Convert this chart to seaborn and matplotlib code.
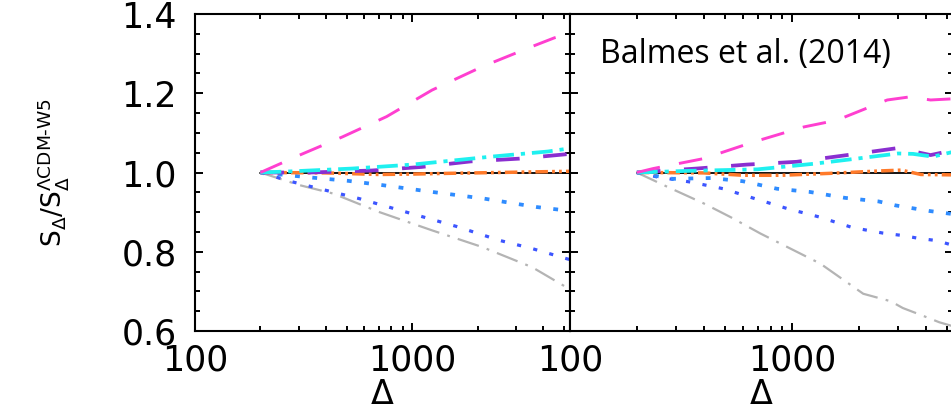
import matplotlib
matplotlib.use("Agg")
import matplotlib.pyplot as plt
import seaborn as sns
from matplotlib.ticker import FixedLocator, FixedFormatter, LogLocator, NullFormatter, MultipleLocator

# ---------------- data ----------------
ref_x = [200, 5300]
ref_y = [1.0, 1.0]

# left panel
magL_x = [200, 303, 477, 760, 1230, 2090, 3550, 4500, 5300]
magL_y = [1.0, 1.044, 1.090, 1.141, 1.208, 1.267, 1.318, 1.340, 1.350]
cyaL_x = [200, 280, 530, 1000, 2300, 4200, 5300]
cyaL_y = [1.0, 1.003, 1.010, 1.020, 1.040, 1.053, 1.061]
purL_x = [200, 340, 650, 1100, 1850, 3100, 5300]
purL_y = [1.0, 1.0, 1.005, 1.014, 1.028, 1.035, 1.047]
oraL_x = [200, 400, 700, 1000, 1500, 2500, 4000, 5300]
oraL_y = [1.0, 0.999, 0.995, 0.996, 0.998, 1.0, 1.002, 1.003]
lbuL_x = [200, 347, 505, 730, 1230, 2140, 3700, 5300]
lbuL_y = [1.0, 0.987, 0.979, 0.968, 0.951, 0.934, 0.913, 0.903]
dbuL_x = [200, 282, 400, 570, 937, 1590, 2500, 3550, 5300]
dbuL_y = [1.0, 0.976, 0.955, 0.934, 0.900, 0.864, 0.829, 0.808, 0.780]
gryL_x = [200, 303, 431, 705, 1230, 2090, 3550, 5300]
gryL_y = [1.0, 0.968, 0.947, 0.900, 0.854, 0.812, 0.761, 0.705]

# right panel
magR_x = [200, 237, 399, 670, 1130, 1590, 2680, 3400, 4200, 5300]
magR_y = [1.0, 1.010, 1.035, 1.077, 1.115, 1.132, 1.183, 1.191, 1.183, 1.186]
cyaR_x = [200, 336, 700, 1250, 1950, 3000, 3500, 4300, 5300]
cyaR_y = [1.0, 1.004, 1.008, 1.022, 1.035, 1.048, 1.047, 1.040, 1.052]
purR_x = [200, 372, 626, 1050, 1770, 3020, 3400, 4200, 5300]
purR_y = [1.0, 1.010, 1.020, 1.027, 1.044, 1.062, 1.055, 1.044, 1.056]
oraR_x = [200, 400, 600, 900, 1500, 2500, 3100, 3800, 5300]
oraR_y = [1.0, 0.999, 0.993, 0.993, 0.998, 1.004, 1.006, 0.995, 0.994]
lbuR_x = [200, 290, 430, 600, 855, 1200, 1730, 2450, 2920, 4130, 5300]
lbuR_y = [1.0, 0.984, 0.986, 0.978, 0.959, 0.951, 0.936, 0.927, 0.917, 0.903, 0.895]
dbuR_x = [200, 246, 348, 490, 680, 950, 1320, 1870, 2570, 3140, 3700, 4500, 5300]
dbuR_y = [1.0, 0.989, 0.976, 0.959, 0.934, 0.909, 0.888, 0.861, 0.847, 0.841, 0.834, 0.828, 0.816]
gryR_x = [200, 274, 400, 530, 720, 1340, 2090, 2780, 3150, 3900, 4600, 5300]
gryR_y = [1.0, 0.964, 0.922, 0.887, 0.846, 0.770, 0.694, 0.675, 0.658, 0.638, 0.622, 0.612]

x_ticks = [100, 1000]
x_tick_labels = ["100", "1000"]
y_ticks = [0.6, 0.8, 1.0, 1.2, 1.4]
y_tick_labels = ["0.6", "0.8", "1.0", "1.2", "1.4"]
annotation = "Balmes et al. (2014)"

# ---------------- styles ----------------
styles = {
    "gray": dict(color="#b4b4b4", linewidth=1.6, linestyle=(0, (16, 6, 2, 6))),
    "dblue": dict(color="#3c55ff", linewidth=2.3, linestyle=(0, (3, 9))),
    "lblue": dict(color="#2f8cff", linewidth=2.7, linestyle=(0, (3.5, 9))),
    "orange": dict(color="#ff7a2a", linewidth=2.5, linestyle=(0, (9, 3, 2, 3, 2, 3))),
    "purple": dict(color="#8a2fd0", linewidth=2.7, linestyle=(0, (17, 17))),
    "cyan": dict(color="#1ff0f0", linewidth=2.7, linestyle=(0, (15, 5, 3, 5))),
    "magenta": dict(color="#ff3fd0", linewidth=2.1, linestyle=(0, (17, 14))),
}

sns.set_theme(style="ticks")
plt.rcParams["font.family"] = ["DejaVu Sans"]
plt.rcParams["lines.scale_dashes"] = False
plt.rcParams["mathtext.fontset"] = "dejavusans"
plt.rcParams["text.color"] = "black"
plt.rcParams["axes.labelcolor"] = "black"
plt.rcParams["xtick.color"] = "black"
plt.rcParams["ytick.color"] = "black"

W, H = 951, 411
fig = plt.figure(figsize=(W / 100, H / 100), dpi=100)
fig.patch.set_facecolor("white")
axL = fig.add_axes([195 / W, 80 / H, 375 / W, 317 / H])
axR = fig.add_axes([570 / W, 80 / H, 383 / W, 317 / H])

panels = [
    (axL, [(gryL_x, gryL_y, "gray"), (dbuL_x, dbuL_y, "dblue"), (lbuL_x, lbuL_y, "lblue"),
           (oraL_x, oraL_y, "orange"), (purL_x, purL_y, "purple"), (cyaL_x, cyaL_y, "cyan"),
           (magL_x, magL_y, "magenta")]),
    (axR, [(gryR_x, gryR_y, "gray"), (dbuR_x, dbuR_y, "dblue"), (lbuR_x, lbuR_y, "lblue"),
           (oraR_x, oraR_y, "orange"), (purR_x, purR_y, "purple"), (cyaR_x, cyaR_y, "cyan"),
           (magR_x, magR_y, "magenta")]),
]

for ax, series in panels:
    ax.set_facecolor("white")
    sns.lineplot(x=ref_x, y=ref_y, ax=ax, color="black", linewidth=1.3,
                 errorbar=None, sort=False, legend=False)
    for xs, ys, key in series:
        sns.lineplot(x=xs, y=ys, ax=ax, errorbar=None, sort=False, legend=False, **styles[key])
    ax.set_xscale("log")
    ax.set_xlim(100, 5300)
    ax.set_ylim(0.6, 1.4)
    ax.xaxis.set_major_locator(FixedLocator(x_ticks))
    ax.xaxis.set_major_formatter(FixedFormatter(x_tick_labels))
    ax.xaxis.set_minor_locator(LogLocator(base=10, subs=[2, 3, 4, 5, 6, 7, 8, 9], numticks=20))
    ax.xaxis.set_minor_formatter(NullFormatter())
    ax.yaxis.set_major_locator(FixedLocator(y_ticks))
    ax.yaxis.set_minor_locator(MultipleLocator(0.05))
    ax.tick_params(which="both", direction="in", bottom=True, left=True, top=True, right=True,
                   color="black", width=1.4, labelcolor="black")
    ax.tick_params(which="major", length=6)
    ax.tick_params(which="minor", length=3.5)
    ax.tick_params(axis="x", which="major", labelsize=25, pad=9)
    ax.tick_params(axis="y", which="major", labelsize=25, pad=13)
    for sp in ax.spines.values():
        sp.set_linewidth(1.5)
        sp.set_color("black")
    ax.set_xlabel("Δ", fontsize=24, labelpad=0, color="black")
    ax.set_ylabel("")

axL.yaxis.set_major_formatter(FixedFormatter(y_tick_labels))
axR.tick_params(axis="y", labelleft=False)

axL.set_ylabel(r"$\mathrm{S}_{\Delta}/\mathrm{S}_{\Delta}^{\Lambda\mathrm{CDM}\text{-}\mathrm{W5}}$",
               fontsize=19, color="black")
axL.yaxis.set_label_coords(-0.33, 0.5)

fig.text(600 / W, 1 - 63 / H, annotation, fontsize=23, family=["Open Sans", "DejaVu Sans"],
         ha="left", va="baseline", color="black")

fig.savefig("out.png", dpi=100, facecolor="white")
